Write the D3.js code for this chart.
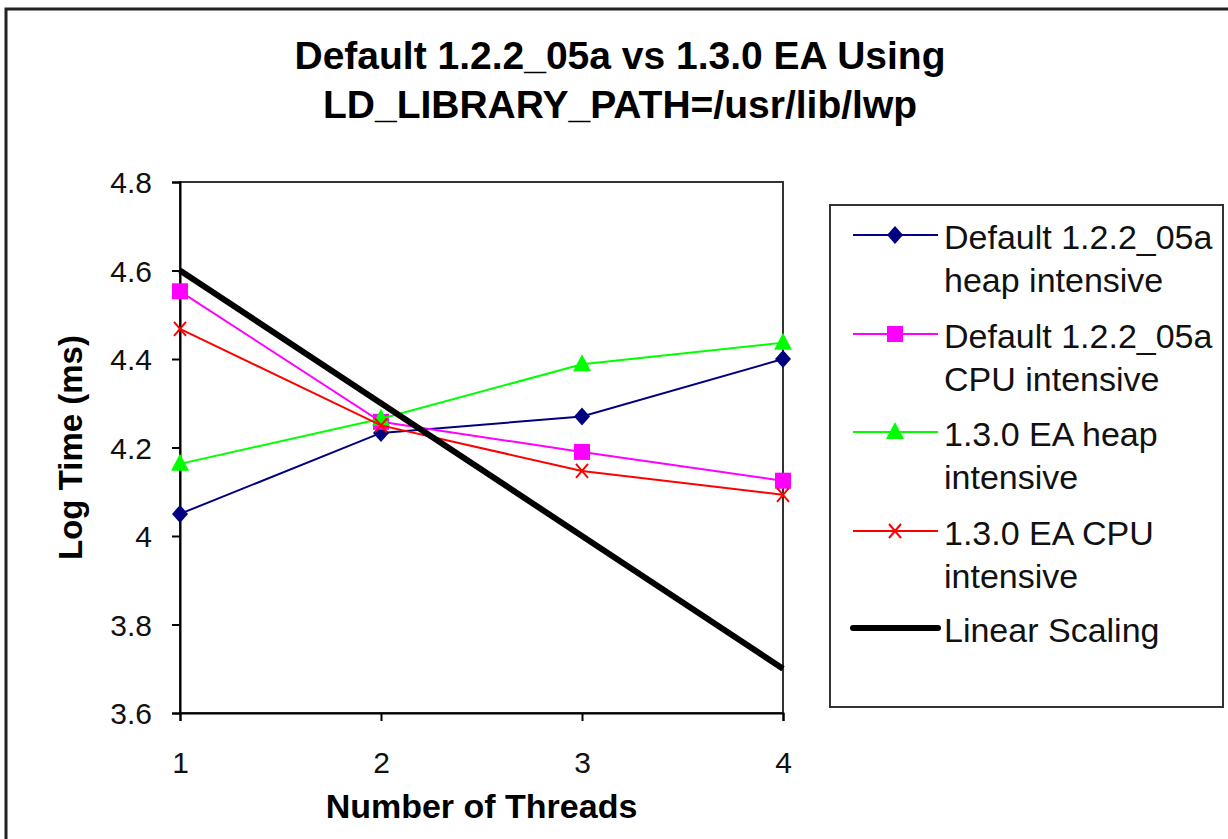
<!DOCTYPE html>
<html>
<head>
<meta charset="utf-8">
<script src="https://cdn.jsdelivr.net/npm/d3@7"></script>
<style>
  body { margin: 0; background: #fff; }
  text { font-family: "Liberation Sans", Arial, sans-serif; }
</style>
</head>
<body>
<svg id="chart" width="1228" height="839"></svg>
<script>
// data
var threads = [1, 2, 3, 4]
var heapDefault = [4.05, 4.233, 4.27, 4.40]
var cpuDefault = [4.553, 4.258, 4.19, 4.125]
var heapEA = [4.163, 4.265, 4.388, 4.437]
var cpuEA = [4.468, 4.25, 4.147, 4.093]
var linearScaling = [4.6, 4.3, 4.0, 3.7]
var yTicks = [3.6, 3.8, 4, 4.2, 4.4, 4.6, 4.8]
var seriesNames = [
    ["Default 1.2.2_05a", "heap intensive"],
    ["Default 1.2.2_05a", "CPU intensive"],
    ["1.3.0 EA heap", "intensive"],
    ["1.3.0 EA CPU", "intensive"],
    ["Linear Scaling"]
]

var svg = d3.select("#chart")

var plotLeft = 180, plotRight = 783, plotTop = 182, plotBottom = 713

var x = d3.scaleLinear().domain([1, 4]).range([plotLeft, plotRight])
var y = d3.scaleLinear().domain([3.6, 4.8]).range([plotBottom, plotTop])

var series = [
    {values: heapDefault, color: "#000080", marker: "diamond", width: 2},
    {values: cpuDefault, color: "#ff00ff", marker: "square", width: 2},
    {values: heapEA, color: "#00ff00", marker: "triangle", width: 2},
    {values: cpuEA, color: "#ff0000", marker: "cross", width: 2},
    {values: linearScaling, color: "#000000", marker: null, width: 6}
]

// outer frame
svg.append("rect")
    .attr("x", 6).attr("y", 9)
    .attr("width", 1240).attr("height", 860)
    .attr("fill", "#fff")
    .attr("stroke", "#222").attr("stroke-width", 3)

// title
svg.append("text")
    .attr("x", 620).attr("y", 69)
    .attr("text-anchor", "middle")
    .attr("font-weight", "bold").attr("font-size", 39)
    .text("Default 1.2.2_05a vs 1.3.0 EA Using")
svg.append("text")
    .attr("x", 620).attr("y", 118)
    .attr("text-anchor", "middle")
    .attr("font-weight", "bold").attr("font-size", 39)
    .text("LD_LIBRARY_PATH=/usr/lib/lwp")

// plot border
svg.append("rect")
    .attr("x", plotLeft).attr("y", plotTop)
    .attr("width", plotRight - plotLeft).attr("height", plotBottom - plotTop)
    .attr("fill", "#fff")
    .attr("stroke", "#333").attr("stroke-width", 2)

// axes
var yAxis = svg.append("g")
    .attr("class", "axis")
    .attr("transform", "translate(" + plotLeft + ",0)")
    .call(d3.axisLeft(y).tickValues(yTicks).tickSize(8).tickPadding(20)
        .tickFormat(d3.format("")))
var xAxis = svg.append("g")
    .attr("class", "axis")
    .attr("transform", "translate(0," + plotBottom + ")")
    .call(d3.axisBottom(x).tickValues(threads).tickSize(8).tickPadding(28)
        .tickFormat(d3.format("d")))

svg.selectAll(".axis path").attr("stroke", "#000").attr("stroke-width", 2)
svg.selectAll(".axis line").attr("stroke", "#000").attr("stroke-width", 2)
svg.selectAll(".axis text")
    .attr("fill", "#111")
    .attr("font-size", 30)
    .attr("font-family", "'Liberation Sans', Arial, sans-serif")
yAxis.selectAll("text").attr("dy", "0.35em")
xAxis.selectAll("text").attr("dy", "0.8em")

// axis titles
svg.append("text")
    .attr("x", (plotLeft + plotRight) / 2).attr("y", 818)
    .attr("text-anchor", "middle")
    .attr("font-weight", "bold").attr("font-size", 34)
    .text("Number of Threads")
svg.append("text")
    .attr("transform", "translate(82," + (plotTop + plotBottom) / 2 + ") rotate(-90)")
    .attr("text-anchor", "middle")
    .attr("font-weight", "bold").attr("font-size", 33)
    .text("Log Time (ms)")

function drawMarker(g, type, color) {
    if (type === "diamond") {
        g.append("path").attr("d", "M0,-9L8,0L0,9L-8,0Z").attr("fill", color)
    } else if (type === "square") {
        g.append("rect").attr("x", -8).attr("y", -8).attr("width", 16).attr("height", 16)
            .attr("fill", color)
    } else if (type === "triangle") {
        g.append("path").attr("d", "M0,-10L9,7L-9,7Z").attr("fill", color)
    } else if (type === "cross") {
        g.append("path").attr("d", "M-6,-7L6,7M6,-7L-6,7")
            .attr("stroke", color).attr("stroke-width", 2).attr("fill", "none")
    }
}

var line = d3.line()
    .x(function(d, i) { return x(threads[i]) })
    .y(function(d) { return y(d) })

// lines (black last so it sits on top as in the picture)
series.forEach(function(s) {
    svg.append("path")
        .datum(s.values)
        .attr("d", line)
        .attr("fill", "none")
        .attr("stroke", s.color)
        .attr("stroke-width", s.width)
    if (s.marker) {
        s.values.forEach(function(v, i) {
            var g = svg.append("g")
                .attr("transform", "translate(" + x(threads[i]) + "," + y(v) + ")")
            drawMarker(g, s.marker, s.color)
        })
    }
})

// legend
var legend = svg.append("g")
legend.append("rect")
    .attr("x", 830).attr("y", 205)
    .attr("width", 393).attr("height", 502)
    .attr("fill", "#fff")
    .attr("stroke", "#333").attr("stroke-width", 2)

var legendY = [235, 334, 432, 531, 628]
series.forEach(function(s, i) {
    var ly = legendY[i]
    legend.append("line")
        .attr("x1", 853).attr("x2", 938)
        .attr("y1", ly).attr("y2", ly)
        .attr("stroke", s.color)
        .attr("stroke-width", s.width)
        .attr("stroke-linecap", s.width > 3 ? "round" : "butt")
    if (s.marker) {
        var g = legend.append("g").attr("transform", "translate(895," + ly + ")")
        drawMarker(g, s.marker, s.color)
    }
    seriesNames[i].forEach(function(t, j) {
        legend.append("text")
            .attr("x", 944).attr("y", ly + 14 + j * 43)
            .attr("font-size", 34)
            .attr("fill", "#111")
            .text(t)
    })
})
</script>
</body>
</html>
